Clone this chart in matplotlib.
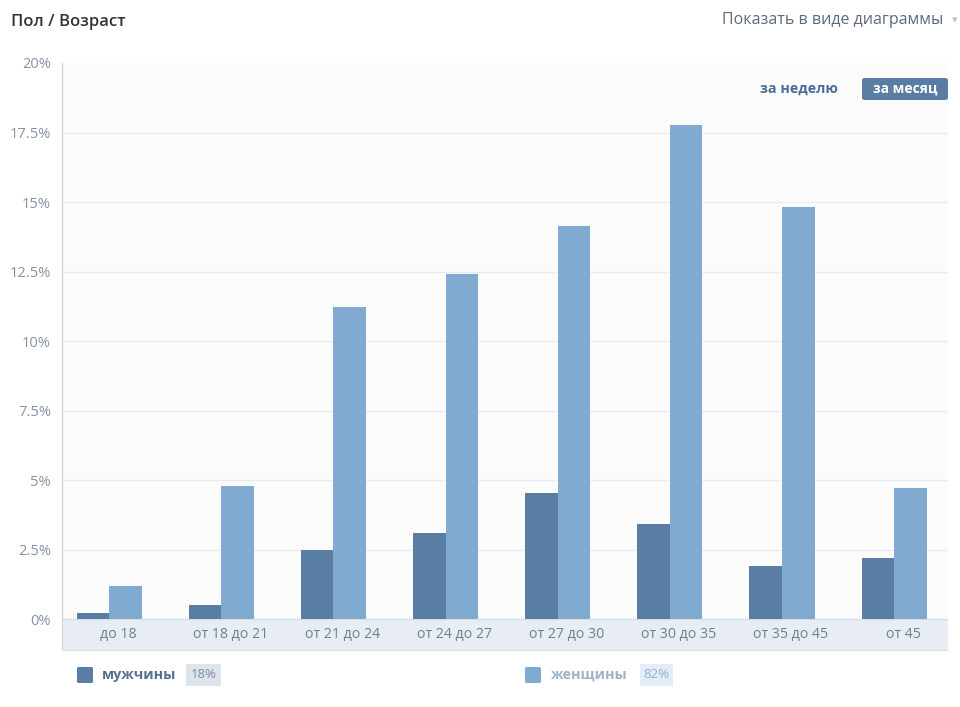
import matplotlib
matplotlib.use("Agg")
import matplotlib.pyplot as plt
from matplotlib.patches import FancyBboxPatch, Rectangle

plt.rcParams["font.family"] = ["Open Sans", "DejaVu Sans"]

# data
categories = ["до 18", "от 18 до 21", "от 21 до 24", "от 24 до 27",
              "от 27 до 30", "от 30 до 35", "от 35 до 45", "от 45"]
men = [0.22, 0.5, 2.48, 3.09, 4.53, 3.42, 1.91, 2.19]
women = [1.19, 4.78, 11.22, 12.41, 14.14, 17.77, 14.82, 4.71]
yticks = [0, 2.5, 5, 7.5, 10, 12.5, 15, 17.5, 20]
ytick_labels = ["0%", "2.5%", "5%", "7.5%", "10%", "12.5%", "15%", "17.5%", "20%"]
legend_names = ["мужчины", "женщины"]
legend_shares = ["18%", "82%"]

C_MEN = "#5a7da4"
C_WOMEN = "#80aacf"
BAND = "#e8edf3"
TICK = "#8592a3"

W, H = 960, 707
fig = plt.figure(figsize=(W / 100, H / 100), dpi=100)
fig.patch.set_facecolor("white")


def fx(px):
    return px / W


def fy(py):
    return 1 - py / H


band_h = 1.115
ax = fig.add_axes([fx(62), fy(650), fx(948) - fx(62), fy(63) - fy(650)])
ax.set_facecolor("#fbfbfc")
ax.set_xlim(-0.5, 7.4)
ax.set_ylim(-band_h, 20)

ax.axhspan(-band_h, 0, color=BAND, zorder=1, lw=0)
for t in yticks[1:-1]:
    ax.axhline(t, color="#e9ecef", lw=1, zorder=1)
ax.axhline(0, color="#d5dde6", lw=1, zorder=2)

x = list(range(len(categories)))
bw = 0.29
off = -0.08
ax.bar([i + off - bw / 2 for i in x], men, width=bw, color=C_MEN, zorder=3, lw=0)
ax.bar([i + off + bw / 2 for i in x], women, width=bw, color=C_WOMEN, zorder=3, lw=0)

for i, c in enumerate(categories):
    ax.text(i, -band_h / 2, c, ha="center", va="center", fontsize=10.2,
            color="#6d7f94", zorder=4)

ax.set_xticks([])
ax.set_yticks(yticks)
ax.set_yticklabels(ytick_labels, fontsize=10.5, color=TICK)
ax.tick_params(axis="y", length=0, pad=8)
for s in ["top", "right"]:
    ax.spines[s].set_visible(False)
ax.spines["left"].set_color("#c9d0d8")
ax.spines["bottom"].set_color("#d9e0e8")

# header
fig.text(fx(11), fy(22), "Пол / Возраст", fontsize=12, fontweight="semibold",
         color="#333333", ha="left", va="center")
fig.text(fx(943), fy(20), "Показать в виде диаграммы", fontsize=11.5,
         color="#5d6b7b", ha="right", va="center")
fig.text(fx(955), fy(21), "▾", fontsize=8, color="#b8c2cc", ha="center", va="center")

# period buttons
fig.text(fx(838), fy(89), "за неделю", fontsize=10.3, fontweight="bold",
         color="#4a6e96", ha="right", va="center")
fig.patches.append(FancyBboxPatch((fx(862), fy(100)), fx(86), fy(78) - fy(100),
                                  boxstyle="round,pad=0,rounding_size=0.003",
                                  transform=fig.transFigure, fc="#5a7da4", ec="none"))
fig.text(fx(905), fy(89), "за месяц", fontsize=10, fontweight="bold",
         color="white", ha="center", va="center")

# legend
leg = [
    (77, C_MEN, "#56708f", 186, 221, "#dde4ec", "#7b8da2"),
    (525, C_WOMEN, "#9db3c8", 640, 673, "#e4edf6", "#8db2d6"),
]
for (lx, col, tcol, bx0, bx1, bbg, bcol), name, share in zip(leg, legend_names, legend_shares):
    fig.patches.append(FancyBboxPatch((fx(lx), fy(683)), fx(16), fy(667) - fy(683),
                                      boxstyle="round,pad=0,rounding_size=0.002",
                                      transform=fig.transFigure, fc=col, ec="none"))
    fig.text(fx(lx + 25), fy(675), name, fontsize=10.4, fontweight="bold",
             color=tcol, ha="left", va="center")
    fig.patches.append(Rectangle((fx(bx0), fy(686)), fx(bx1 - bx0), fy(664) - fy(686),
                                 transform=fig.transFigure, fc=bbg, ec="none"))
    fig.text(fx((bx0 + bx1) / 2), fy(675), share, fontsize=9.5, color=bcol,
             ha="center", va="center")

fig.savefig("out.png", dpi=100)
